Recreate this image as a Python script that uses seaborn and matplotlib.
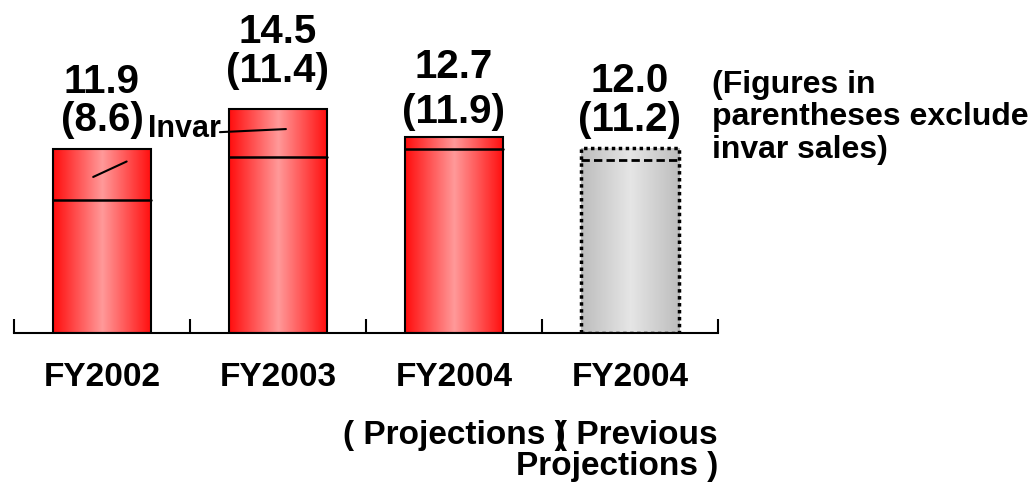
import matplotlib
matplotlib.use("Agg")
import matplotlib.pyplot as plt
import numpy as np
import pandas as pd
import seaborn as sns

# data
keys = ["FY2002", "FY2003", "FY2004", "FY2004 prev"]
tick_labels = ["FY2002", "FY2003", "FY2004", "FY2004"]
totals = [11.9, 14.5, 12.7, 12.0]
excl_invar = [8.6, 11.4, 11.9, 11.2]
is_previous = [False, False, False, True]

df = pd.DataFrame({"key": keys, "total": totals, "excl": excl_invar})

sns.set_theme(style="white")
plt.rcParams["font.family"] = ["Liberation Sans", "DejaVu Sans"]
plt.rcParams["font.weight"] = "bold"
plt.rcParams["text.color"] = "black"
plt.rcParams["xtick.color"] = "black"
plt.rcParams["xtick.labelcolor"] = "black"

fig = plt.figure(figsize=(10.34, 4.86), dpi=100)
ax = fig.add_axes([14 / 1034, 153 / 486, 704 / 1034, 309 / 486])

sns.barplot(data=df, x="key", y="total", order=keys, width=0.557,
            color="red", edgecolor="black", linewidth=1.5, ax=ax)

# gradient fill, dark edges and light centre
xs = np.linspace(0, 1, 256)
prof = 1 - np.abs(xs - 0.5) * 2
red_grad = np.zeros((1, 256, 3))
red_grad[..., 0] = 1.0
red_grad[..., 1] = 0.05 + 0.55 * prof
red_grad[..., 2] = 0.05 + 0.55 * prof
gray_grad = np.zeros((1, 256, 3))
gray_grad[...] = (0.74 + 0.16 * prof)[None, :, None]

# label placement as in the original slide (uneven)
label_pad = [7, 14, 4.5, 6]
label_spacing = [1.03, 1.03, 1.22, 1.05]

for i, p in enumerate(ax.patches):
    x0, w, h = p.get_x(), p.get_width(), p.get_height()
    grad = gray_grad if is_previous[i] else red_grad
    im = ax.imshow(grad, extent=(x0, x0 + w, 0, h), aspect="auto", zorder=0.5)
    im.set_clip_path(p)
    p.set_facecolor("none")
    p.set_zorder(2)
    if is_previous[i]:
        p.set_linestyle((0, (1, 1)))
        p.set_linewidth(2.5)
        ax.plot([x0, x0 + w], [excl_invar[i]] * 2, color="black", lw=2,
                ls=(0, (3, 1.5)), zorder=3)
    else:
        ax.plot([x0, x0 + w], [excl_invar[i]] * 2, color="black", lw=1.8, zorder=3)
    ax.annotate(f"{totals[i]:.1f}\n({excl_invar[i]:.1f})", (i, totals[i]),
                xytext=(0, label_pad[i]), textcoords="offset points", ha="center",
                va="bottom", fontsize=29, fontweight="bold", color="black",
                linespacing=label_spacing[i])

# "Invar" call-out and leader lines
ax.text(0.26, 12.7, "Invar", fontsize=22, fontweight="bold", va="baseline", ha="left")
ax.plot([-0.05, 0.14], [excl_invar[0] + 1.5, excl_invar[0] + 2.5], color="black", lw=1.5, zorder=3)
ax.plot([0.67, 1.045], [excl_invar[1] + 1.6, excl_invar[1] + 1.8], color="black", lw=1.5, zorder=3)

ax.set_xlim(-0.5, 3.5)
ax.set_ylim(0, 20)
ax.set_xlabel("")
ax.set_ylabel("")
ax.set_yticks([])
ax.set_xticks(range(4))
ax.set_xticklabels(tick_labels, fontsize=24, fontweight="bold", color="black")
ax.set_xticks(np.arange(-0.5, 4, 1), minor=True)
ax.tick_params(axis="x", which="major", length=0, pad=21)
ax.tick_params(axis="x", which="minor", direction="in", length=10, width=1.5,
               color="black", bottom=True)
for s in ["left", "top", "right"]:
    ax.spines[s].set_visible(False)
ax.spines["bottom"].set_color("black")
ax.spines["bottom"].set_linewidth(1.5)

ax.text(2.0, -0.28, "( Projections )", transform=ax.get_xaxis_transform(),
        ha="center", va="top", fontsize=24, fontweight="bold")
ax.text(3.5, -0.28, "( Previous\nProjections )", transform=ax.get_xaxis_transform(),
        ha="right", va="top", multialignment="right", fontsize=24,
        fontweight="bold", linespacing=1.0)

fig.text(712 / 1034, 1 - 70 / 486, "(Figures in\nparentheses exclude\ninvar sales)",
         ha="left", va="top", fontsize=23, fontweight="bold", linespacing=1.1)

fig.savefig("out.png", dpi=100)
